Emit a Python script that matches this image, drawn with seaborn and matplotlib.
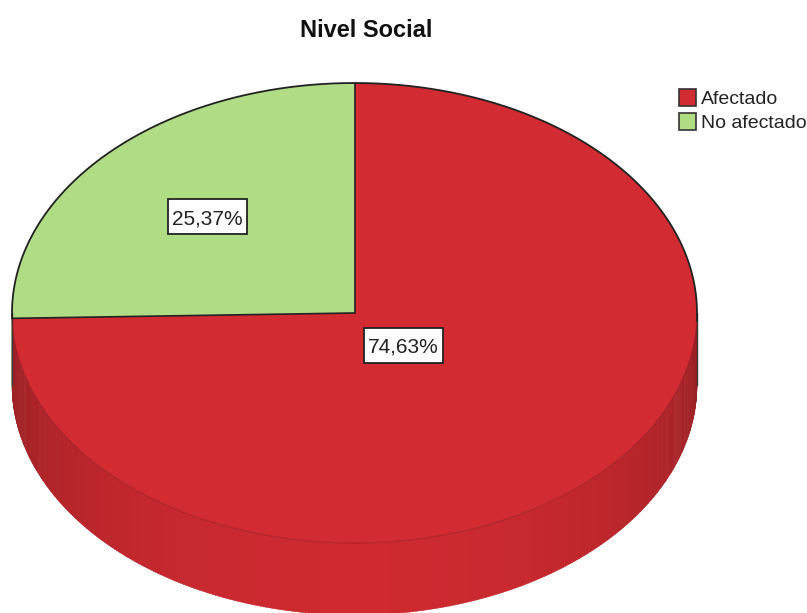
import numpy as np
import matplotlib
matplotlib.use("Agg")
import matplotlib.pyplot as plt
from matplotlib.patches import Polygon, Rectangle
import seaborn as sns

# ---- data ----
title = "Nivel Social"
categories = ["Afectado", "No afectado"]
percentages = [74.63, 25.37]
value_labels = ["74,63%", "25,37%"]
colors_hex = ["#D22B31", "#B1DC86"]

# ---- style ----
sns.set_style("white")
plt.rcParams['font.family'] = ['Liberation Sans', 'DejaVu Sans']
palette = sns.color_palette(colors_hex)

W, H = 807, 613
fig = plt.figure(figsize=(W / 100, H / 100), dpi=100)
ax = fig.add_axes([0, 0, 1, 1])
ax.set_xlim(0, W)
ax.set_ylim(H, 0)
ax.axis('off')

cx, cy, a, b, depth = 354.5, 313.0, 342.5, 230.0, 72.0
label_radius = [0.2, 0.6]


def ell(theta_deg, dy=0.0):
    t = np.radians(theta_deg)
    return cx + a * np.cos(t), cy - b * np.sin(t) + dy


# slice angle ranges, clockwise from 12 o'clock
total = sum(percentages)
ranges = []
ang = 90.0
for p in percentages:
    sweep = 360.0 * p / total
    ranges.append((ang - sweep, ang))
    ang -= sweep

# ---- side (extruded rim) ----
step = 0.5
for t0 in np.arange(-270.0, 90.0, step):
    t1 = t0 + step
    mid = 0.5 * (t0 + t1)
    s = np.sin(np.radians(mid))
    if s >= 0:
        continue
    idx = 0
    for i, (lo, hi) in enumerate(ranges):
        if lo <= mid <= hi:
            idx = i
    f = 0.72 + 0.26 * (-s)
    col = tuple(min(1, c * f) for c in palette[idx])
    ts = np.linspace(t0, t1 + 0.15, 3)
    xt, yt = ell(ts)
    xb, yb = ell(ts[::-1], depth)
    poly = Polygon(np.column_stack([np.r_[xt, xb], np.r_[yt, yb]]),
                   closed=True, fc=col, ec=col, lw=0.3)
    ax.add_patch(poly)

# side vertical edges
for side_t in (180.0, 0.0):
    x0, y0 = ell(side_t)
    ax.plot([x0, x0], [y0, y0 + depth], color="#3a3a3a", lw=1.0)

# ---- top face ----
for i, (lo, hi) in enumerate(ranges):
    ts = np.linspace(lo, hi, 400)
    xs, ys = ell(ts)
    pts = np.column_stack([np.r_[cx, xs], np.r_[cy, ys]])
    ax.add_patch(Polygon(pts, closed=True, fc=palette[i], ec='none'))

# subtle boundary between top and rim
ts = np.linspace(180, 360, 400)
xs, ys = ell(ts)
ax.plot(xs, ys, color=(0.5, 0.08, 0.1), alpha=0.45, lw=0.8)

# outline on upper rim
ts = np.linspace(-2, 90 + 360 * percentages[1] / total, 400)
xs, ys = ell(ts)
ax.plot(xs, ys, color="#222222", lw=1.3)

# radial boundaries
for lo, hi in ranges:
    x1, y1 = ell(hi)
    ax.plot([cx, x1], [cy, y1], color="#222222", lw=1.2)

# ---- value labels (text + box sized from text extent) ----
texts = []
for i, (lo, hi) in enumerate(ranges):
    mid = 0.5 * (lo + hi)
    t = np.radians(mid)
    r = label_radius[i]
    lx = cx + r * a * np.cos(t)
    ly = cy - r * b * np.sin(t)
    txt = ax.text(lx, ly, value_labels[i], ha='center', va='center_baseline',
                  fontsize=15, color="#222222", zorder=6)
    texts.append((txt, lx, ly))

fig.canvas.draw()
renderer = fig.canvas.get_renderer()
for txt, lx, ly in texts:
    bb = txt.get_window_extent(renderer)
    w = bb.width + 8
    h = 35
    ax.add_patch(Rectangle((lx - w / 2, ly - h / 2), w, h, fc='white',
                           ec='#222222', lw=1.3, zorder=5))

# ---- title ----
ax.text(366, 37, title, ha='center', va='baseline', fontsize=17,
        fontweight='bold', color="#111111")

# ---- legend ----
leg_x, leg_y0, leg_dy, box = 679, 97, 24, 17
for i, cat in enumerate(categories):
    yc = leg_y0 + i * leg_dy
    ax.add_patch(Rectangle((leg_x, yc - box / 2), box, box, fc=palette[i],
                           ec='#333333', lw=1.2))
    ax.text(leg_x + box + 5, yc + 7.5, cat, ha='left', va='baseline',
            fontsize=14, color="#222222")

fig.savefig("out.png", dpi=100)
